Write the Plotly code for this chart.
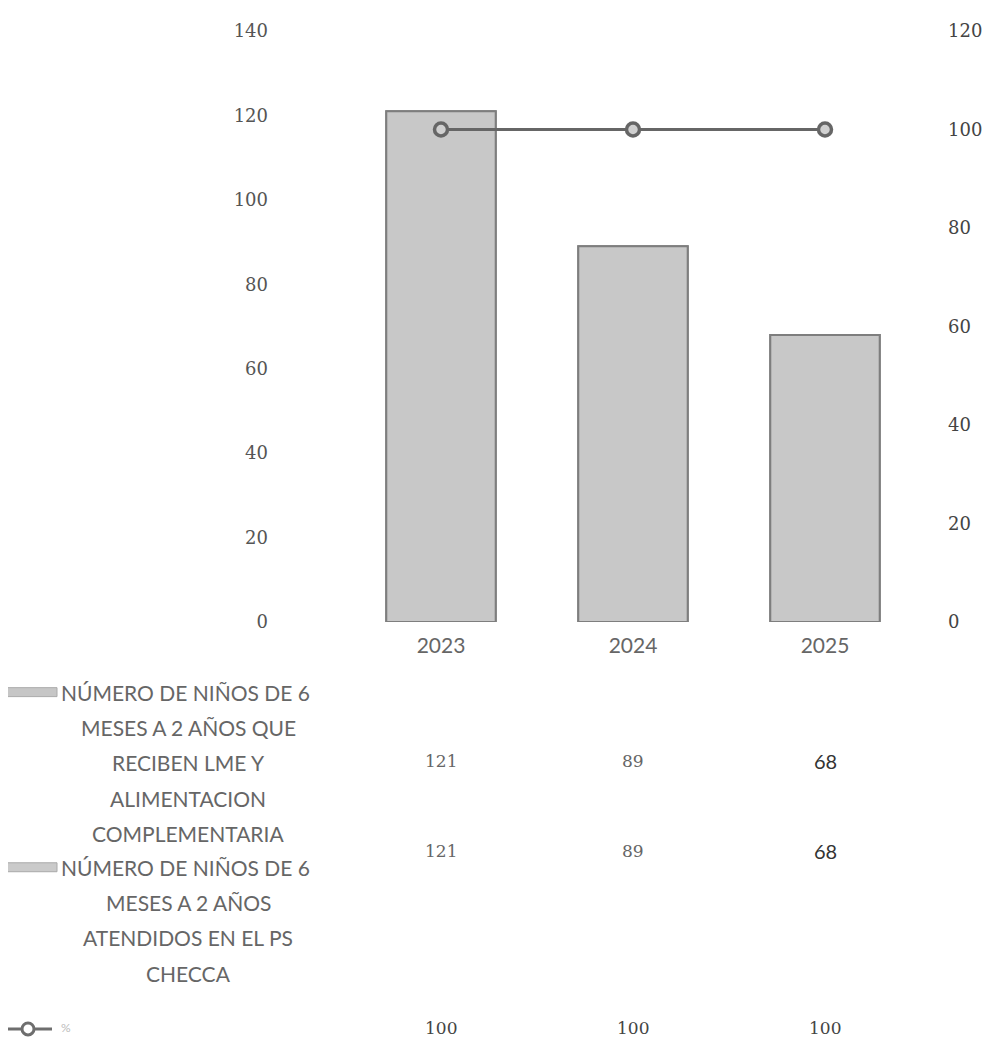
import plotly.graph_objects as go

years = ["2023", "2024", "2025"]
ninos_lme = [121, 89, 68]
ninos_atendidos = [121, 89, 68]
porcentaje = [100, 100, 100]

label_lme = ["NÚMERO DE NIÑOS DE 6", "MESES A 2 AÑOS QUE", "RECIBEN LME Y", "ALIMENTACION", "COMPLEMENTARIA"]
label_atendidos = ["NÚMERO DE NIÑOS DE 6", "MESES A 2 AÑOS", "ATENDIDOS EN EL PS", "CHECCA"]
label_pct = "%"

left_ticks = [0, 20, 40, 60, 80, 100, 120, 140]
right_ticks = [0, 20, 40, 60, 80, 100, 120]

SANS = "Lato, 'Open Sans', sans-serif"
SERIF = "'DejaVu Serif', serif"

xpos = list(range(len(years)))

fig = go.Figure()
fig.add_trace(go.Bar(x=xpos, y=ninos_atendidos, name=" ".join(label_atendidos),
                     marker=dict(color="#cacaca", line=dict(color="#7e7e7e", width=2)),
                     width=0.57, showlegend=False))
fig.add_trace(go.Bar(x=xpos, y=ninos_lme, name=" ".join(label_lme),
                     marker=dict(color="#c8c8c8", line=dict(color="#7e7e7e", width=2)),
                     width=0.57, showlegend=False))
fig.add_trace(go.Scatter(x=xpos, y=porcentaje, yaxis="y2", name=label_pct, mode="lines+markers",
                         line=dict(color="#666666", width=3),
                         marker=dict(symbol="circle", size=13, color="#d0d0d0",
                                     line=dict(color="#666666", width=3.5)),
                         showlegend=False))

fig.update_layout(
    width=995, height=1050,
    margin=dict(l=337, r=82, t=20, b=436),
    paper_bgcolor="white", plot_bgcolor="white",
    barmode="overlay",
    showlegend=False,
    xaxis=dict(range=[-0.5, len(years) - 0.5], tickvals=xpos, ticktext=years,
               showgrid=False, showline=False, zeroline=False,
               tickfont=dict(family=SANS, size=21, color="#666"), ticks="", ticklabelstandoff=9),
    yaxis=dict(range=[0, 140], tickvals=left_ticks, showgrid=False, zeroline=False, showline=False,
               tickfont=dict(family=SERIF, size=18, color="#555"), ticklabelstandoff=76),
    yaxis2=dict(range=[0, 120], tickvals=right_ticks, overlaying="y", side="right",
                showgrid=False, zeroline=False, showline=False,
                tickfont=dict(family=SERIF, size=18, color="#444"), ticklabelstandoff=26),
)

ann = []
shapes = []
plot_bottom = 622.0
plot_h = 594.0


def py(pix):
    return (plot_bottom - pix) / plot_h


def px(pix):
    return (pix - 345.0) / 576.0


for i, line in enumerate(label_lme):
    ann.append(dict(text=line, xref="paper", yref="paper", x=px(185 if i == 0 else 188), y=py(693 + i * 35.3),
                    showarrow=False, xanchor="center", yanchor="middle",
                    font=dict(family=SANS, size=21, color="#666")))
for i, line in enumerate(label_atendidos):
    ann.append(dict(text=line, xref="paper", yref="paper", x=px(185 if i == 0 else 188), y=py(869 + i * 35.3),
                    showarrow=False, xanchor="center", yanchor="middle",
                    font=dict(family=SANS, size=21, color="#666")))
ann.append(dict(text=label_pct, xref="paper", yref="paper", x=px(66), y=py(1030),
                showarrow=False, xanchor="center", yanchor="middle",
                font=dict(family=SANS, size=12, color="#bbb")))

for i, v in enumerate(ninos_lme):
    last = i == len(years) - 1
    ann.append(dict(text=str(v), xref="x", yref="paper", x=xpos[i], y=py(762), showarrow=False,
                    xanchor="center", yanchor="middle",
                    font=dict(family=SANS if last else SERIF, size=20 if last else 17,
                              color="#333" if last else "#666")))
for i, v in enumerate(ninos_atendidos):
    last = i == len(years) - 1
    ann.append(dict(text=str(v), xref="x", yref="paper", x=xpos[i], y=py(852), showarrow=False,
                    xanchor="center", yanchor="middle",
                    font=dict(family=SANS if last else SERIF, size=20 if last else 17,
                              color="#333" if last else "#666")))
for i, v in enumerate(porcentaje):
    ann.append(dict(text=str(v), xref="x", yref="paper", x=xpos[i], y=py(1030), showarrow=False,
                    xanchor="center", yanchor="middle",
                    font=dict(family=SERIF, size=17, color="#444")))

shapes.append(dict(type="rect", xref="paper", yref="paper", x0=px(6), x1=px(57), y0=py(697), y1=py(688),
                   fillcolor="#c6c6c6", line=dict(color="#aaa", width=1)))
shapes.append(dict(type="rect", xref="paper", yref="paper", x0=px(6), x1=px(57), y0=py(873), y1=py(864),
                   fillcolor="#cacaca", line=dict(color="#aaa", width=1)))
shapes.append(dict(type="line", xref="paper", yref="paper", x0=px(4), x1=px(52), y0=py(1031), y1=py(1031),
                   line=dict(color="#6e6e6e", width=3)))
shapes.append(dict(type="circle", xref="paper", yref="paper", x0=px(22), x1=px(34), y0=py(1037), y1=py(1025),
                   fillcolor="white", line=dict(color="#6e6e6e", width=3)))

fig.update_layout(annotations=ann, shapes=shapes)
fig.write_html("out.html")
